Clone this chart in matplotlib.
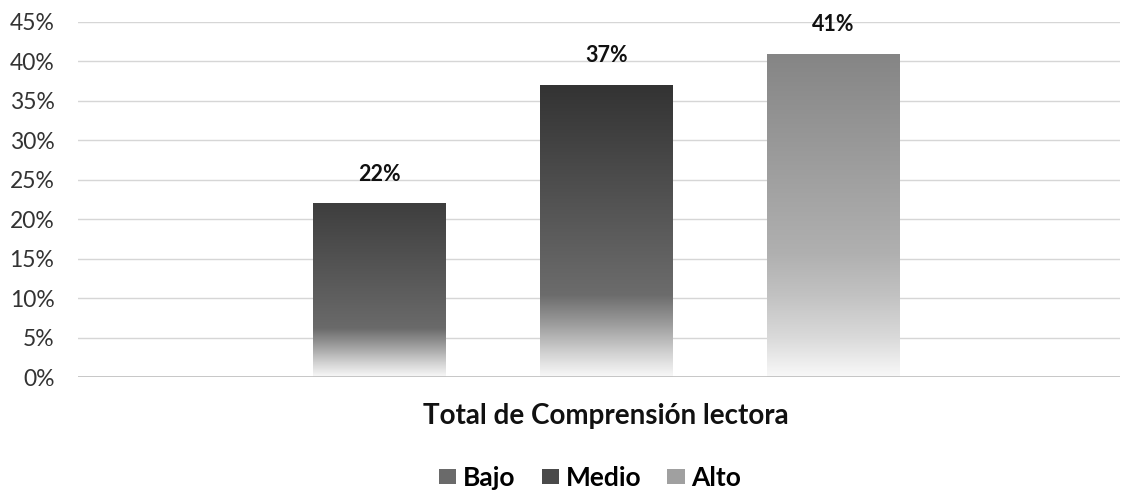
import numpy as np
import matplotlib
matplotlib.use("Agg")
import matplotlib.pyplot as plt
from matplotlib.patches import Patch
from matplotlib.colors import LinearSegmentedColormap

categories = ["Bajo", "Medio", "Alto"]
values = [22, 37, 41]
labels = ["22%", "37%", "41%"]
yticks = [0, 5, 10, 15, 20, 25, 30, 35, 40, 45]
ytick_labels = ["0%", "5%", "10%", "15%", "20%", "25%", "30%", "35%", "40%", "45%"]
xlabel = "Total de Comprensión lectora"

top_colors = ["#3e3e3e", "#333333", "#858585"]
mid_colors = ["#6a6a6a", "#6c6c6c", "#b0b0b0"]
legend_colors = ["#6a6a6a", "#4a4a4a", "#a0a0a0"]

plt.rcParams['font.family'] = ['Lato', 'DejaVu Sans']

fig = plt.figure(figsize=(11.24, 4.94), dpi=100)
ax = fig.add_axes([0.0694, 0.2368, 0.927, 0.7187])

xs = np.arange(len(categories)) - 1.0
width = 0.585

for i, y in enumerate(yticks):
    ax.axhline(y, color="#bdbdbd" if y == 0 else "#d6d6d6", lw=1.2 if y == 0 else 1.0,
               zorder=0 if y else 3)

for i, (x, v, tc, mc, lab) in enumerate(zip(xs, values, top_colors, mid_colors, labels)):
    if i < 2:
        stops = [(0.0, "#f8f8f8"), (0.08, "#d2d2d2"), (0.18, "#9c9c9c"),
                 (0.28, mc), (1.0, tc)]
    else:
        stops = [(0.0, "#f8f8f8"), (0.12, "#dadada"), (0.25, "#c2c2c2"),
                 (0.38, mc), (1.0, tc)]
    cmap = LinearSegmentedColormap.from_list("g%d" % i, stops)
    grad = np.linspace(0, 1, 256).reshape(-1, 1)
    rect = plt.Rectangle((x - width / 2, 0), width, v, facecolor="none",
                         edgecolor="none", zorder=2)
    ax.add_patch(rect)
    im = ax.imshow(grad, cmap=cmap, origin="lower", aspect="auto",
                   extent=[x - width / 2, x + width / 2, 0, v], zorder=2)
    im.set_clip_path(rect)
    ax.text(x, v + 2.4, lab, ha="center", va="bottom", fontsize=15.5,
            fontweight="bold", color="#111111")

ax.set_xlim(-2.328, 2.262)
ax.set_ylim(0, 45)
ax.set_yticks(yticks)
ax.set_yticklabels(ytick_labels, fontsize=16.5, color="#333333")
ax.set_xticks([])
ax.tick_params(axis="y", length=0, pad=17)
for s in ax.spines.values():
    s.set_visible(False)

fig.text(0.539, 0.158, xlabel, ha="center", va="center", fontsize=20,
         fontweight="bold", color="#111111")

handles = [Patch(facecolor=c, edgecolor="none") for c in legend_colors]
leg = fig.legend(handles, categories, loc="center", bbox_to_anchor=(0.525, 0.032),
                 ncol=3, frameon=False, handlelength=0.65,
                 handleheight=0.5, handletextpad=0.25, columnspacing=1.0,
                 prop={"weight": "bold", "size": 19})

fig.savefig("out.png", dpi=100, facecolor="white")
